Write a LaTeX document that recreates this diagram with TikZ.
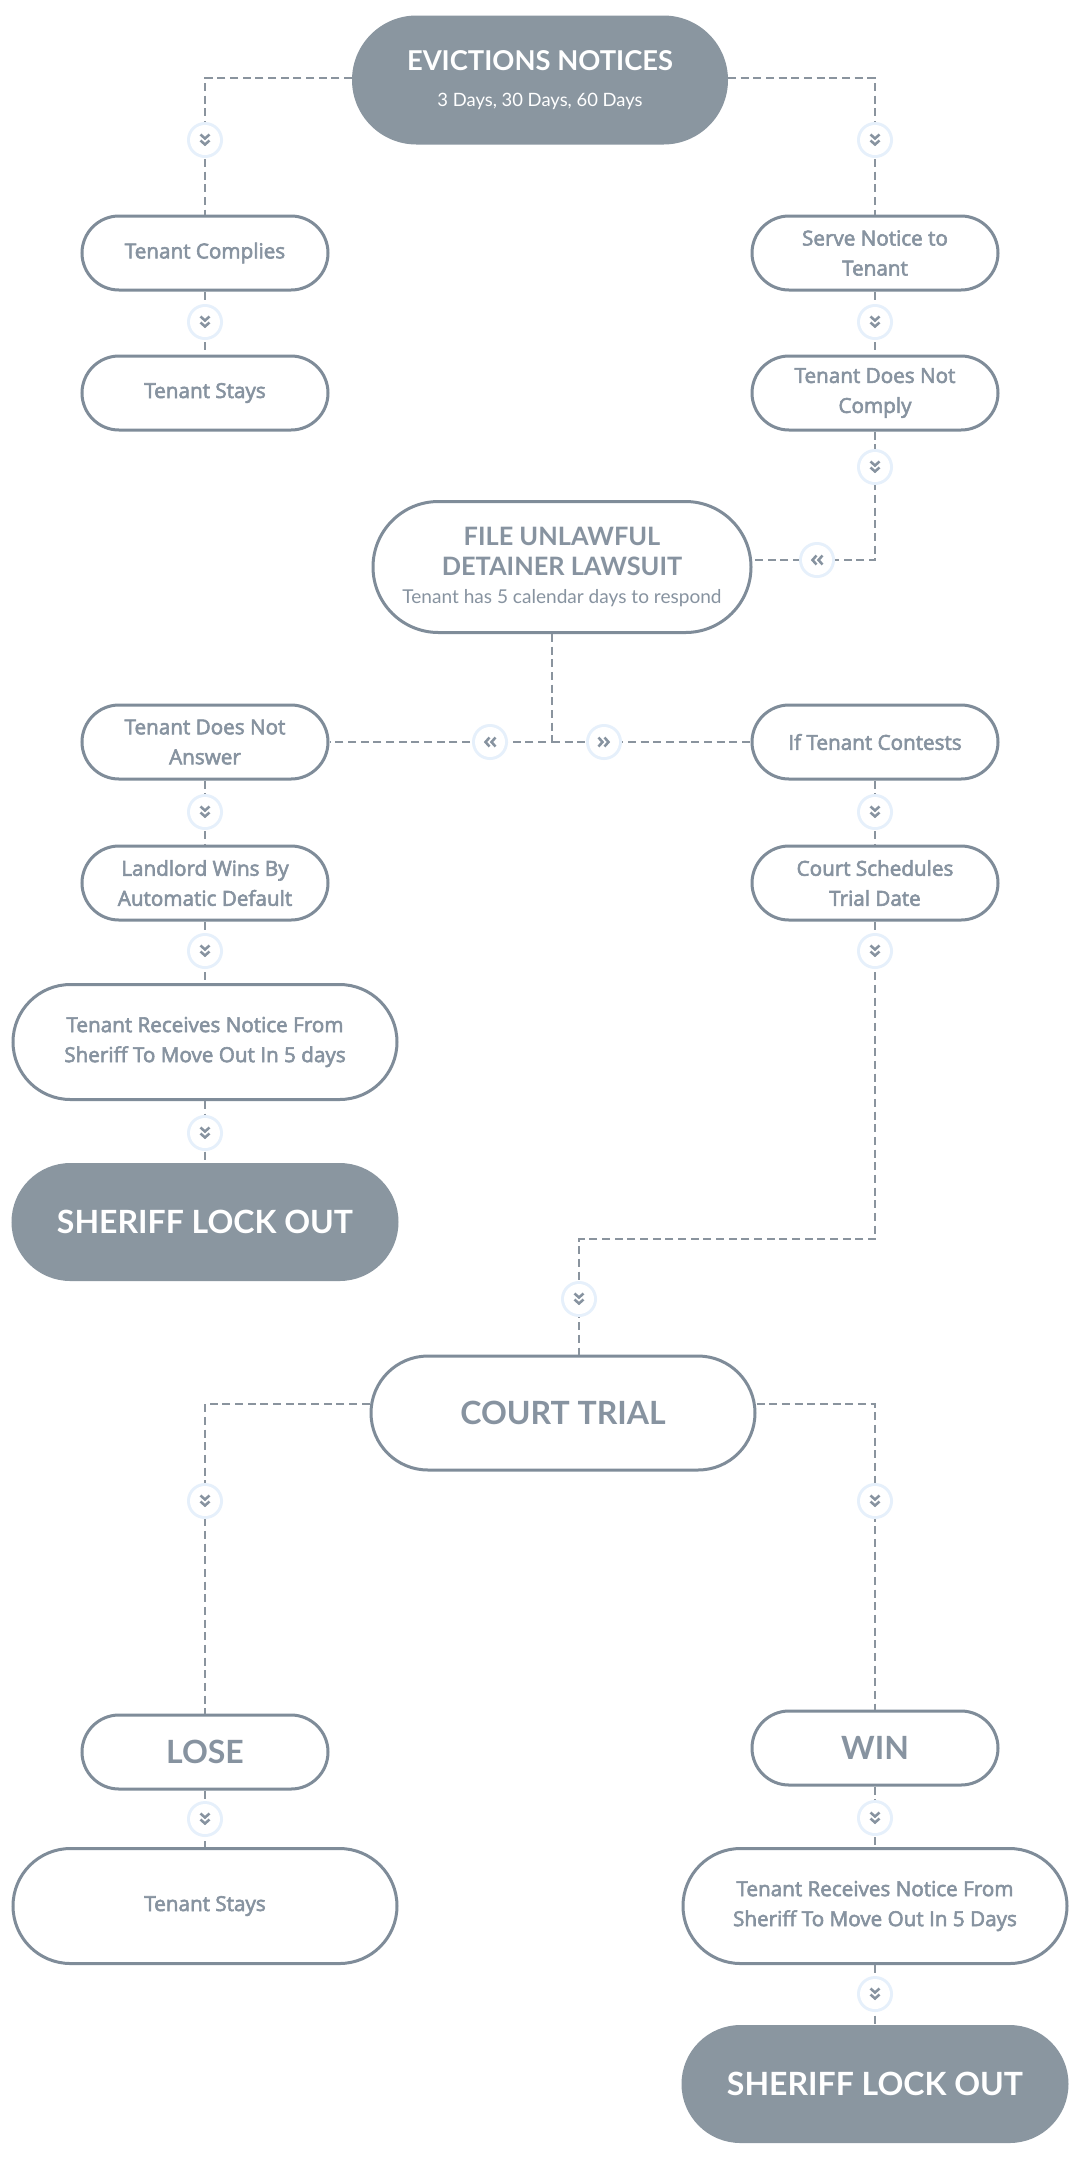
\documentclass[tikz,border=0pt]{standalone}
\usepackage{fontspec}
\setmainfont{Open Sans}[FakeBold=2.8]
\newfontfamily\headfont{Lato}
\usetikzlibrary{shapes.misc,calc}
\definecolor{bord}{HTML}{7F8C99}
\definecolor{dline}{HTML}{8A949E}
\definecolor{darkfill}{HTML}{8A96A0}
\definecolor{txt}{HTML}{8793A0}
\definecolor{glow}{HTML}{E6F0FB}
\tikzset{
  box/.style={rounded rectangle, draw=bord, line width=2.25pt, fill=white,
    text=txt, align=center, font=\fontsize{15.5}{22.5}\selectfont,
    minimum width={246*0.75pt}, minimum height={74*0.75pt}, inner sep=0pt},
  bigbox/.style={box, minimum width={384*0.75pt}, minimum height={115*0.75pt}},
  darkbox/.style={bigbox, fill=darkfill, draw=darkfill, text=white},
  conn/.style={draw=dline, line width=1.5pt, dash pattern=on 6pt off 3.5pt},
  chevc/.style={circle, fill=white, minimum size={31*0.75pt}, inner sep=0pt},
  chevline/.style={draw=txt, line width=1.9pt, line cap=butt, line join=miter},
  dch/.pic={\fill[glow] (0,0) circle (18); \fill[white] (0,0) circle (15);
    \draw[chevline] (-4.5,-5.5)--(0,-1.5)--(4.5,-5.5) (-4.5,0.5)--(0,4.5)--(4.5,0.5);},
  lch/.pic={\fill[glow] (0,0) circle (18); \fill[white] (0,0) circle (15);
    \draw[chevline] (5.5,-4.5)--(1.5,0)--(5.5,4.5) (-0.5,-4.5)--(-4.5,0)--(-0.5,4.5);},
  rch/.pic={\fill[glow] (0,0) circle (18); \fill[white] (0,0) circle (15);
    \draw[chevline] (-5.5,-4.5)--(-1.5,0)--(-5.5,4.5) (0.5,-4.5)--(4.5,0)--(0.5,4.5);}
}
\begin{document}
\begin{tikzpicture}[x=0.75pt,y=-0.75pt]
\useasboundingbox[fill=white] (0,0) rectangle (1074,2157);
% boxes
\node[darkbox, minimum width={373*0.75pt}, minimum height={126*0.75pt}] (top) at (540,80)
  {\headfont\bfseries\fontsize{20.5}{24}\selectfont EVICTIONS NOTICES\\[4pt]
   \headfont\mdseries\fontsize{13.8}{15}\selectfont 3 Days, 30 Days, 60 Days};
\node[box] (tc) at (205,253) {Tenant Complies};
\node[box] (ts) at (205,393) {Tenant Stays};
\node[box] (sn) at (875,253) {Serve Notice to\\Tenant};
\node[box] (tdnc) at (875,393) {Tenant Does Not\\Comply};
\node[bigbox, minimum width={378*0.75pt}, minimum height={131*0.75pt}] (fu) at (562,567)
  {\headfont\bfseries\fontsize{19}{25.5}\selectfont FILE UNLAWFUL\\
   \headfont\bfseries\fontsize{19}{25.5}\selectfont DETAINER LAWSUIT\\[-1pt]
   \headfont\mdseries\fontsize{14.3}{16}\selectfont Tenant has 5 calendar days to respond};
\node[box] (tdna) at (205,742) {Tenant Does Not\\Answer};
\node[box] (itc) at (875,742) {If Tenant Contests};
\node[box] (lw) at (205,883) {Landlord Wins By\\Automatic Default};
\node[box] (cs) at (875,883) {Court Schedules\\Trial Date};
\node[bigbox] (trn) at (205,1042) {Tenant Receives Notice From\\Sheriff To Move Out In 5 days};
\node[darkbox] (slo1) at (205,1222) {\headfont\bfseries\fontsize{24}{28}\selectfont SHERIFF LOCK OUT};
\node[bigbox, minimum height={114*0.75pt}] (ct) at (563,1413) {\headfont\bfseries\fontsize{24}{28}\selectfont COURT TRIAL};
\node[box] (lose) at (205,1752) {\headfont\bfseries\fontsize{24}{26}\selectfont LOSE};
\node[box] (win) at (875,1748) {\headfont\bfseries\fontsize{24}{26}\selectfont WIN};
\node[bigbox] (ts2) at (205,1906) {Tenant Stays};
\node[bigbox] (trn2) at (875,1906) {Tenant Receives Notice From\\Sheriff To Move Out In 5 Days};
\node[darkbox] (slo2) at (875,2084) {\headfont\bfseries\fontsize{24}{28}\selectfont SHERIFF LOCK OUT};
% connectors
\coordinate (sp) at (552,742);
\coordinate (j) at (579,1239);
\draw[conn] ($(top.west)+(0,-2)$) -| (tc.north);
\draw[conn] ($(top.east)+(0,-2)$) -| (sn.north);
\draw[conn] (tc.south) -- (ts.north);
\draw[conn] (sn.south) -- (tdnc.north);
\draw[conn] (tdnc.south) |- ($(fu.east)+(0,-7)$);
\draw[conn] (fu.south -| sp) -- (sp) -- (tdna.east);
\draw[conn] (sp) -- (itc.west);
\draw[conn] (tdna.south) -- (lw.north);
\draw[conn] (lw.south) -- (trn.north);
\draw[conn] (trn.south) -- (slo1.north);
\draw[conn] (itc.south) -- (cs.north);
\draw[conn] (cs.south) |- (j) -- (j |- ct.north);
\draw[conn] ($(ct.west)+(0,-9)$) -| (lose.north);
\draw[conn] ($(ct.east)+(0,-9)$) -| (win.north);
\draw[conn] (lose.south) -- (ts2.north);
\draw[conn] (win.south) -- (trn2.north);
\draw[conn] (trn2.south) -- (slo2.north);
% chevron markers
\foreach \n/\x/\y in {c1/205/140, c2/875/140, c3/205/322, c4/875/322, c5/875/467,
  c6/205/812, c7/875/812, c8/205/951, c9/875/951, c10/205/1133, c11/579/1299,
  c12/205/1501, c13/875/1501, c14/205/1819, c15/875/1818, c16/875/1994}{
  \node[chevc] (\n) at (\x,\y) {};
  \pic at (\n) {dch};
}
\node[chevc] (l1) at (817,560) {}; \pic at (l1) {lch};
\node[chevc] (l2) at (490,742) {}; \pic at (l2) {lch};
\node[chevc] (r1) at (604,742) {}; \pic at (r1) {rch};
\end{tikzpicture}
\end{document}
